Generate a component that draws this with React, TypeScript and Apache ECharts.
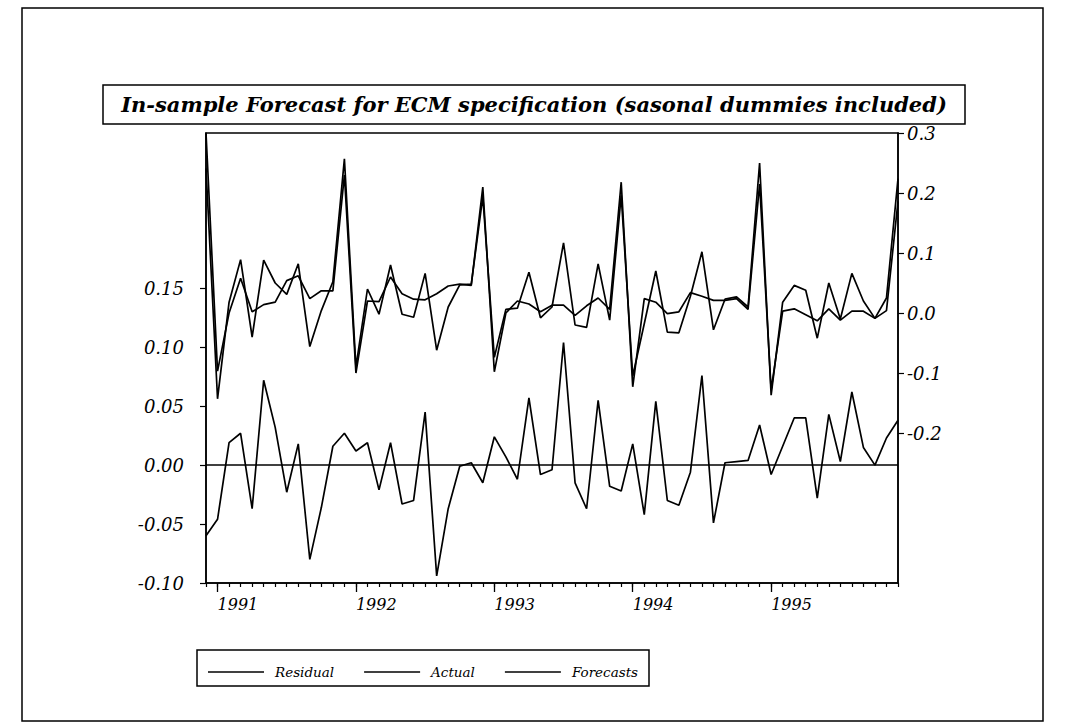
import React, { useEffect, useRef } from "react";
import * as echarts from "echarts";

const months: string[] = [
  "1990-12",
  "1991-01", "1991-02", "1991-03", "1991-04", "1991-05", "1991-06", "1991-07", "1991-08", "1991-09", "1991-10", "1991-11", "1991-12",
  "1992-01", "1992-02", "1992-03", "1992-04", "1992-05", "1992-06", "1992-07", "1992-08", "1992-09", "1992-10", "1992-11", "1992-12",
  "1993-01", "1993-02", "1993-03", "1993-04", "1993-05", "1993-06", "1993-07", "1993-08", "1993-09", "1993-10", "1993-11", "1993-12",
  "1994-01", "1994-02", "1994-03", "1994-04", "1994-05", "1994-06", "1994-07", "1994-08", "1994-09", "1994-10", "1994-11", "1994-12",
  "1995-01", "1995-02", "1995-03", "1995-04", "1995-05", "1995-06", "1995-07", "1995-08", "1995-09", "1995-10", "1995-11", "1995-12",
];

const residual: number[] = [
  -0.060,
  -0.046, 0.019, 0.027, -0.037, 0.072, 0.032, -0.023, 0.018, -0.080, -0.036, 0.016, 0.027,
  0.012, 0.019, -0.021, 0.019, -0.033, -0.030, 0.045, -0.094, -0.037, -0.001, 0.002, -0.015,
  0.024, 0.007, -0.012, 0.057, -0.008, -0.004, 0.104, -0.015, -0.037, 0.055, -0.018, -0.022,
  0.018, -0.042, 0.054, -0.030, -0.034, -0.006, 0.076, -0.049, 0.002, 0.003, 0.004, 0.034,
  -0.008, 0.016, 0.040, 0.040, -0.028, 0.043, 0.003, 0.062, 0.015, 0.000, 0.023, 0.038,
];

const actual: number[] = [
  0.241,
  -0.143, 0.018, 0.089, -0.040, 0.088, 0.050, 0.031, 0.082, -0.056, 0.004, 0.052, 0.257,
  -0.090, 0.040, -0.002, 0.080, -0.002, -0.007, 0.066, -0.062, 0.010, 0.047, 0.048, 0.194,
  -0.074, 0.006, 0.008, 0.068, -0.008, 0.010, 0.117, -0.020, -0.024, 0.082, -0.012, 0.196,
  -0.105, -0.018, 0.070, -0.032, -0.033, 0.028, 0.102, -0.028, 0.023, 0.027, 0.010, 0.250,
  -0.137, 0.018, 0.046, 0.038, -0.042, 0.050, -0.010, 0.066, 0.020, -0.009, 0.025, 0.224,
];

const forecast: number[] = [
  0.300,
  -0.097, 0.000, 0.058, 0.002, 0.014, 0.018, 0.054, 0.062, 0.024, 0.037, 0.037, 0.230,
  -0.100, 0.020, 0.019, 0.060, 0.032, 0.023, 0.022, 0.032, 0.045, 0.048, 0.046, 0.210,
  -0.098, 0.000, 0.020, 0.015, 0.002, 0.013, 0.013, -0.004, 0.012, 0.025, 0.006, 0.218,
  -0.123, 0.024, 0.018, -0.001, 0.002, 0.034, 0.028, 0.021, 0.021, 0.024, 0.006, 0.215,
  -0.128, 0.003, 0.007, -0.003, -0.013, 0.007, -0.012, 0.003, 0.003, -0.009, 0.004, 0.186,
];

const leftTicks: number[] = [-0.1, -0.05, 0, 0.05, 0.1, 0.15];
const rightTicks: number[] = [-0.2, -0.1, 0, 0.1, 0.2, 0.3];
const seriesNames: string[] = ["Residual", "Actual", "Forecasts"];
const titleText = "In-sample Forecast for ECM specification (sasonal dummies included)";

export default function App() {
  const ref = useRef<HTMLDivElement>(null);

  useEffect(() => {
    const chart = echarts.init(ref.current!, null, { renderer: "svg" });
    const font = "DejaVu Serif";
    const isJan = (_i: number, v: string) => String(v).endsWith("-01");
    const lineStyle = { color: "#000", width: 1.7 };

    chart.setOption({
      animation: false,
      backgroundColor: "#fff",
      color: ["#000", "#000", "#000"],
      grid: {
        left: 206,
        right: 169,
        top: 133,
        bottom: 142,
        show: true,
        borderColor: "#000",
        borderWidth: 1.5,
        backgroundColor: "transparent",
      },
      legend: {
        left: 203,
        top: 660,
        data: seriesNames,
        icon: "rect",
        itemWidth: 56,
        itemHeight: 1.6,
        itemGap: 30,
        textStyle: {
          fontFamily: font,
          fontStyle: "italic",
          fontSize: 13.5,
          color: "#000",
          padding: [0, 0, 0, 6],
        },
      },
      xAxis: [
        {
          type: "category",
          data: months,
          boundaryGap: false,
          position: "bottom",
          axisLine: { show: true, onZero: false, lineStyle: { color: "#000", width: 1.5 } },
          axisTick: { show: true, interval: 0, length: 4, lineStyle: { color: "#000", width: 1.2 } },
          axisLabel: { show: false },
          splitLine: { show: false },
        },
        {
          type: "category",
          data: months,
          boundaryGap: false,
          position: "bottom",
          axisLine: { show: false, onZero: false },
          axisTick: { show: true, interval: isJan, length: 9, lineStyle: { color: "#000", width: 1.3 } },
          axisLabel: {
            show: true,
            interval: isJan,
            formatter: (v: string) => v.slice(0, 4),
            align: "left",
            margin: 13,
            fontFamily: font,
            fontStyle: "italic",
            fontSize: 16,
            color: "#000",
          },
          splitLine: { show: false },
        },
      ],
      yAxis: [
        {
          type: "value",
          position: "left",
          min: -0.1,
          max: 0.2817,
          axisLine: { show: true, lineStyle: { color: "#000", width: 1.5 } },
          axisTick: { show: true, customValues: leftTicks, length: 6, lineStyle: { color: "#000", width: 1.2 } },
          axisLabel: {
            customValues: leftTicks,
            formatter: (v: number) => v.toFixed(2),
            margin: 22,
            fontFamily: font,
            fontStyle: "italic",
            fontSize: 18,
            color: "#000",
          },
          splitLine: { show: false },
        },
        {
          type: "value",
          position: "right",
          min: -0.45,
          max: 0.3,
          axisLine: { show: true, lineStyle: { color: "#000", width: 1.5 } },
          axisTick: { show: true, customValues: rightTicks, length: 6, lineStyle: { color: "#000", width: 1.2 } },
          axisLabel: {
            customValues: rightTicks,
            formatter: (v: number) => v.toFixed(1),
            margin: 9,
            fontFamily: font,
            fontStyle: "italic",
            fontSize: 18,
            color: "#000",
          },
          splitLine: { show: false },
        },
      ],
      series: [
        {
          name: seriesNames[0],
          type: "line",
          xAxisIndex: 0,
          yAxisIndex: 0,
          data: residual,
          symbol: "none",
          lineStyle,
          markLine: {
            silent: true,
            symbol: "none",
            label: { show: false },
            lineStyle: { color: "#000", width: 1.5, type: "solid" },
            data: [{ yAxis: 0 }],
          },
        },
        {
          name: seriesNames[1],
          type: "line",
          xAxisIndex: 0,
          yAxisIndex: 1,
          data: actual,
          symbol: "none",
          lineStyle,
        },
        {
          name: seriesNames[2],
          type: "line",
          xAxisIndex: 0,
          yAxisIndex: 1,
          data: forecast,
          symbol: "none",
          lineStyle,
        },
      ],
      graphic: [
        {
          type: "rect",
          shape: { x: 22, y: 8, width: 1021, height: 713 },
          style: { fill: "none", stroke: "#000", lineWidth: 1.5 },
          silent: true,
        },
        {
          type: "rect",
          shape: { x: 103, y: 85, width: 862, height: 39 },
          style: { fill: "none", stroke: "#000", lineWidth: 1.5 },
          silent: true,
        },
        {
          type: "text",
          x: 534,
          y: 104,
          style: {
            text: titleText,
            fontFamily: font,
            fontStyle: "italic",
            fontWeight: "bold",
            fontSize: 21,
            fill: "#000",
            align: "center",
            verticalAlign: "middle",
          },
          silent: true,
        },
        {
          type: "rect",
          shape: { x: 197, y: 650, width: 452, height: 36 },
          style: { fill: "none", stroke: "#000", lineWidth: 1.5 },
          silent: true,
        },
      ],
    });

    return () => chart.dispose();
  }, []);

  return (
    <div
      ref={ref}
      style={{ position: "fixed", left: 0, top: 0, width: 1067, height: 725, background: "#fff" }}
    />
  );
}
